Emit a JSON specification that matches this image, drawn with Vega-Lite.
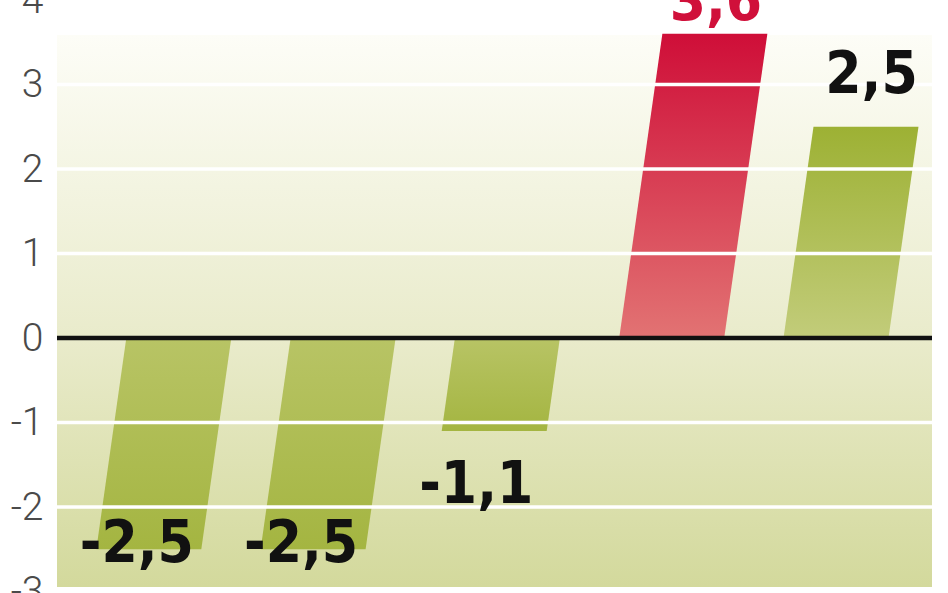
{
  "$schema": "https://vega.github.io/schema/vega-lite/v6.json",
  "width": 875,
  "height": 591.5,
  "autosize": {"type": "none"},
  "padding": {"left": 57, "right": 16, "top": 0, "bottom": 1.5},
  "background": "white",
  "config": {
    "view": {"stroke": null},
    "axisX": {"disable": true},
    "axisY": {"title": null, "domain": false, "ticks": false, "grid": false, "labelFont": "Roboto", "labelFontWeight": 300, "labelFontSize": 39, "labelColor": "#4a4a4a", "labelPadding": 14, "labelFlush": false, "labelOverlap": false, "labelBound": false},
    "locale": {"number": {"decimal": ",", "thousands": " ", "grouping": [3], "currency": ["", " zł"], "minus": "-"}}
  },
  "data": {"values": [
    {"value": -2.5},
    {"value": -2.5},
    {"value": -1.1},
    {"value": 3.6},
    {"value": 2.5}
  ]},
  "transform": [{"window": [{"op": "row_number", "as": "idx"}]}],
  "layer": [
    {
      "data": {"values": [{}]},
      "mark": {"type": "rect", "color": {"gradient": "linear", "x1": 0, "y1": 0, "x2": 0, "y2": 1, "stops": [
        {"offset": 0, "color": "#fdfdf7"},
        {"offset": 0.55, "color": "#e9ebcb"},
        {"offset": 1, "color": "#d3d99c"}
      ]}},
      "encoding": {
        "y": {"datum": 3.586, "type": "quantitative", "scale": {"domain": [-3, 4], "nice": false, "zero": false},
          "axis": {"title": null, "values": [-3, -2, -1, 0, 1, 2, 3, 4], "format": "d"}},
        "y2": {"datum": -2.947}
      }
    },
    {
      "transform": [
        {"filter": "datum.value < 0"},
        {"calculate": "0", "as": "zero"},
        {"fold": ["zero", "value"], "as": ["end", "y"]},
        {"calculate": "datum.idx - 0.3195 + 0.073 * datum.y", "as": "xl"},
        {"calculate": "datum.idx + 0.3195 + 0.073 * datum.y", "as": "xr"}
      ],
      "mark": {"type": "area", "orient": "horizontal", "color": {"gradient": "linear", "x1": 0, "y1": 0, "x2": 0, "y2": 1, "stops": [
        {"offset": 0, "color": "#b8c465"},
        {"offset": 1, "color": "#a4b541"}
      ]}},
      "encoding": {
        "y": {"field": "y", "type": "quantitative"},
        "x": {"field": "xl", "type": "quantitative", "scale": {"domain": [0.2587, 5.5843], "nice": false, "zero": false}},
        "x2": {"field": "xr"},
        "detail": {"field": "idx"}
      }
    },
    {
      "transform": [
        {"filter": "datum.idx == 5"},
        {"calculate": "0", "as": "zero"},
        {"fold": ["zero", "value"], "as": ["end", "y"]},
        {"calculate": "datum.idx - 0.3195 + 0.073 * datum.y", "as": "xl"},
        {"calculate": "datum.idx + 0.3195 + 0.073 * datum.y", "as": "xr"}
      ],
      "mark": {"type": "area", "orient": "horizontal", "color": {"gradient": "linear", "x1": 0, "y1": 0, "x2": 0, "y2": 1, "stops": [
        {"offset": 0, "color": "#9db134"},
        {"offset": 1, "color": "#c2cc7a"}
      ]}},
      "encoding": {
        "y": {"field": "y", "type": "quantitative"},
        "x": {"field": "xl", "type": "quantitative"},
        "x2": {"field": "xr"},
        "detail": {"field": "idx"}
      }
    },
    {
      "transform": [
        {"filter": "datum.idx == 4"},
        {"calculate": "0", "as": "zero"},
        {"fold": ["zero", "value"], "as": ["end", "y"]},
        {"calculate": "datum.idx - 0.3195 + 0.073 * datum.y", "as": "xl"},
        {"calculate": "datum.idx + 0.3195 + 0.073 * datum.y", "as": "xr"}
      ],
      "mark": {"type": "area", "orient": "horizontal", "color": {"gradient": "linear", "x1": 0, "y1": 0, "x2": 0, "y2": 1, "stops": [
        {"offset": 0, "color": "#cf0e38"},
        {"offset": 1, "color": "#e27373"}
      ]}},
      "encoding": {
        "y": {"field": "y", "type": "quantitative"},
        "x": {"field": "xl", "type": "quantitative"},
        "x2": {"field": "xr"},
        "detail": {"field": "idx"}
      }
    },
    {
      "data": {"values": [{"tick": -2}, {"tick": -1}, {"tick": 1}, {"tick": 2}, {"tick": 3}]},
      "mark": {"type": "rule", "color": "#ffffff", "strokeWidth": 3.3, "strokeCap": "butt"},
      "encoding": {
        "y": {"field": "tick", "type": "quantitative"}
      }
    },
    {
      "data": {"values": [{}]},
      "mark": {"type": "rule", "color": "#111111", "strokeWidth": 4.5, "strokeCap": "butt"},
      "encoding": {
        "y": {"datum": 0, "type": "quantitative"}
      }
    },
    {
      "transform": [{"filter": "datum.idx <= 2"}, {"calculate": "datum.idx + 0.073 * datum.value", "as": "xe"}],
      "mark": {"type": "text", "font": "DejaVu Sans Condensed", "fontWeight": "bold", "fontSize": 58, "color": "#111111", "align": "center", "baseline": "alphabetic", "dx": -12, "dy": 12.75},
      "encoding": {
        "y": {"field": "value", "type": "quantitative"},
        "x": {"field": "xe", "type": "quantitative"},
        "text": {"field": "value", "type": "quantitative", "format": ".1f"}
      }
    },
    {
      "transform": [{"filter": "datum.idx == 3"}, {"calculate": "datum.idx + 0.073 * datum.value", "as": "xe"}],
      "mark": {"type": "text", "font": "DejaVu Sans Condensed", "fontWeight": "bold", "fontSize": 58, "color": "#111111", "align": "center", "baseline": "alphabetic", "dx": -18, "dy": 72},
      "encoding": {
        "y": {"field": "value", "type": "quantitative"},
        "x": {"field": "xe", "type": "quantitative"},
        "text": {"field": "value", "type": "quantitative", "format": ".1f"}
      }
    },
    {
      "transform": [{"filter": "datum.idx == 4"}, {"calculate": "datum.idx + 0.073 * datum.value", "as": "xe"}],
      "mark": {"type": "text", "font": "DejaVu Sans Condensed", "fontWeight": "bold", "fontSize": 58, "color": "#d0103a", "align": "center", "baseline": "alphabetic", "dx": 1, "dy": -14},
      "encoding": {
        "y": {"field": "value", "type": "quantitative"},
        "x": {"field": "xe", "type": "quantitative"},
        "text": {"field": "value", "type": "quantitative", "format": ".1f"}
      }
    },
    {
      "transform": [{"filter": "datum.idx == 5"}, {"calculate": "datum.idx + 0.073 * datum.value", "as": "xe"}],
      "mark": {"type": "text", "font": "DejaVu Sans Condensed", "fontWeight": "bold", "fontSize": 58, "color": "#111111", "align": "center", "baseline": "alphabetic", "dx": 5.5, "dy": -33.75},
      "encoding": {
        "y": {"field": "value", "type": "quantitative"},
        "x": {"field": "xe", "type": "quantitative"},
        "text": {"field": "value", "type": "quantitative", "format": ".1f"}
      }
    }
  ]
}
